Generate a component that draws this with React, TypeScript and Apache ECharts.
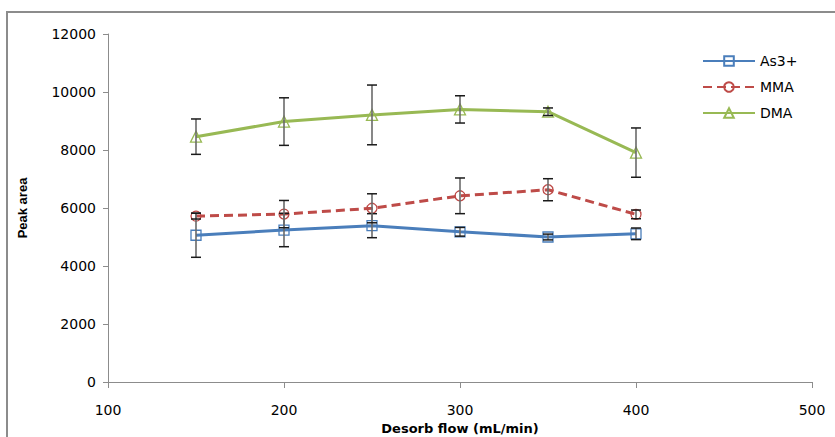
import React, { useEffect, useRef } from "react";
import * as echarts from "echarts";

const flows = [150, 200, 250, 300, 350, 400];
const as3 = [5060, 5240, 5390, 5180, 5000, 5110];
const as3Err = [760, 575, 414, 150, 100, 200];
const mma = [5720, 5790, 5990, 6420, 6630, 5780];
const mmaErr = [100, 470, 500, 615, 380, 150];
const dma = [8460, 8980, 9210, 9400, 9320, 7910];
const dmaErr = [610, 820, 1030, 470, 130, 850];

const xTicks = { min: 100, max: 500, interval: 100 };
const yTicks = { min: 0, max: 12000, interval: 2000 };

const BLUE = "#4A7EBB";
const RED = "#BE4B48";
const GREEN = "#98B954";

const errData = (vals: number[], errs: number[]) =>
  flows.map((x, i) => [x, vals[i] - errs[i], vals[i] + errs[i]]);

const renderErr = (params: any, api: any) => {
  const x = api.value(0);
  const lo = api.value(1);
  const hi = api.value(2);
  const top = api.coord([x, hi]);
  const bot = api.coord([x, lo]);
  const w = 5;
  return {
    type: "group",
    children: [
      { type: "line", shape: { x1: top[0], y1: top[1], x2: bot[0], y2: bot[1] }, style: { stroke: "#6a6a6a", lineWidth: 1.6 } },
      { type: "line", shape: { x1: top[0] - w, y1: top[1], x2: top[0] + w, y2: top[1] }, style: { stroke: "#1a1a1a", lineWidth: 1.5 } },
      { type: "line", shape: { x1: bot[0] - w, y1: bot[1], x2: bot[0] + w, y2: bot[1] }, style: { stroke: "#1a1a1a", lineWidth: 1.5 } },
    ],
  };
};

export default function App() {
  const ref = useRef<HTMLDivElement>(null);
  useEffect(() => {
    document.body.style.margin = "0";
    const chart = echarts.init(ref.current!, null, { renderer: "svg" });
    const font = "DejaVu Sans";
    const lineSeries = (name: string, vals: number[], color: string, symbol: string, size: number, dashed: boolean) => ({
      name,
      type: "line",
      data: flows.map((x, i) => [x, vals[i]]),
      symbol,
      symbolSize: size,
      lineStyle: { color, width: 3, type: dashed ? [9, 5] : "solid" },
      itemStyle: { color: "rgba(255,255,255,0)", borderColor: color, borderWidth: 1.3 },
      z: 2,
    });
    chart.setOption({
      animation: false,
      backgroundColor: "#fff",
      grid: { left: 108, right: 23, top: 34, bottom: 55, outerBoundsMode: "none", containLabel: false },
      graphic: [
        {
          type: "rect",
          shape: { x: 7, y: 12, width: 840, height: 440 },
          style: { fill: "none", stroke: "#8c8c8c", lineWidth: 2 },
          silent: true,
        },
      ],
      legend: {
        data: ["As3+", "MMA", "DMA"],
        orient: "vertical",
        left: 697,
        top: 49,
        itemWidth: 52,
        itemHeight: 12,
        itemGap: 12,
        textStyle: { fontFamily: font, fontSize: 14, color: "#000" },
      },
      xAxis: {
        type: "value",
        ...xTicks,
        name: "Desorb flow (mL/min)",
        nameLocation: "middle",
        nameGap: 37,
        nameTextStyle: { fontFamily: font, fontSize: 13, fontWeight: "bold", color: "#000" },
        axisLine: { lineStyle: { color: "#8c8c8c" } },
        axisTick: { show: true, length: 6, lineStyle: { color: "#8c8c8c" } },
        axisLabel: { fontFamily: font, fontSize: 14, color: "#000", margin: 21 },
        splitLine: { show: false },
      },
      yAxis: {
        type: "value",
        ...yTicks,
        name: "Peak area",
        nameLocation: "middle",
        nameGap: 79,
        nameRotate: 90,
        nameTextStyle: { fontFamily: "Liberation Sans", fontSize: 13, fontWeight: "bold", color: "#000" },
        axisLine: { show: true, lineStyle: { color: "#8c8c8c" } },
        axisTick: { show: true, length: 5, lineStyle: { color: "#8c8c8c" } },
        axisLabel: { fontFamily: font, fontSize: 14, color: "#000", margin: 12, formatter: (v: number) => String(v) },
        splitLine: { show: false },
      },
      series: [
        lineSeries("As3+", as3, BLUE, "rect", 10, false),
        lineSeries("MMA", mma, RED, "circle", 10, true),
        lineSeries("DMA", dma, GREEN, "triangle", 11, false),
        { name: "errAs3", type: "custom", renderItem: renderErr, data: errData(as3, as3Err), encode: { x: 0, y: [1, 2] }, z: 5, silent: true },
        { name: "errMma", type: "custom", renderItem: renderErr, data: errData(mma, mmaErr), encode: { x: 0, y: [1, 2] }, z: 5, silent: true },
        { name: "errDma", type: "custom", renderItem: renderErr, data: errData(dma, dmaErr), encode: { x: 0, y: [1, 2] }, z: 5, silent: true },
      ],
    });
    return () => chart.dispose();
  }, []);
  return <div ref={ref} style={{ width: 835, height: 437 }} />;
}
